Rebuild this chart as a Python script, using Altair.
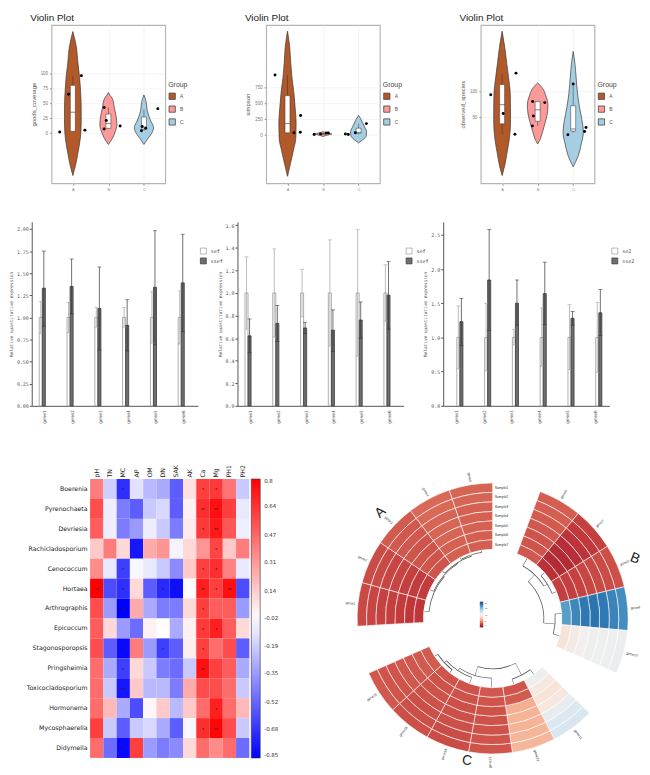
import math
import altair as alt
import pandas as pd

# ===================== Row 1: violin plots =====================
GROUPS = ["A", "B", "C"]
GROUP_COLORS = ["#B15928", "#FB9A99", "#A6CEE3"]

# goods_coverage : violin profile (value, half width in group units)
gc_A_val = [170, 144, 119, 93, 68, 42, 17, -9, -34, -54, -71]
gc_A_hw = [0.0, 0.10, 0.14, 0.19, 0.22, 0.235, 0.235, 0.21, 0.14, 0.075, 0.0]
gc_B_val = [68, 63, 58, 42, 27, 14, 2, -9, -19]
gc_B_hw = [0.0, 0.05, 0.11, 0.17, 0.22, 0.24, 0.19, 0.11, 0.0]
gc_C_val = [64, 53, 37, 22, 9, -1, -9, -19]
gc_C_hw = [0.0, 0.06, 0.095, 0.18, 0.27, 0.21, 0.11, 0.0]
gc_q1 = [3, 8, 7]
gc_med = [35, 16, 10]
gc_q3 = [80, 32, 27]
gc_lo = [2, 7, 4]
gc_hi = [96, 43, 40]
gc_pt_val = [2, 65, 96, 5, 43, 21, 7, 12, 41, 11, 4, 8]
gc_pt_jit = [-0.37, -0.12, 0.24, 0.34, -0.12, -0.06, -0.12, 0.33, 0.39, -0.05, -0.07, 0.05]

# simpson
sp_A_val = [1634, 1386, 1147, 908, 669, 430, 191, -48, -239, -430, -645]
sp_A_hw = [0.0, 0.063, 0.09, 0.126, 0.18, 0.216, 0.243, 0.234, 0.167, 0.09, 0.0]
sp_B_val = [60, 40, 25, 19, 10, -5, -20]
sp_B_hw = [0.0, 0.08, 0.2, 0.25, 0.18, 0.08, 0.0]
sp_C_val = [311, 239, 143, 48, -10, -72, -120]
sp_C_hw = [0.0, 0.077, 0.158, 0.225, 0.216, 0.117, 0.0]
sp_q1 = [38, 15, 30]
sp_med = [182, 20, 45]
sp_q3 = [621, 27, 110]
sp_lo = [38, 10, 10]
sp_hi = [946, 33, 182]
sp_pt_val = [946, 310, 48, 38, 10, 19, 33, 33, 182, 38, 19, 10]
sp_pt_jit = [-0.35, 0.37, 0.36, 0.18, -0.25, -0.07, 0.09, 0.15, 0.22, -0.09, -0.37, -0.29]

# observed_species
os_A_val = [216, 186, 156, 127, 98, 68, 39, 9, -20, -44, -63]
os_A_hw = [0.0, 0.073, 0.127, 0.18, 0.227, 0.236, 0.236, 0.205, 0.136, 0.073, 0.0]
os_B_val = [116, 106, 92, 74, 56, 39, 21, 6, -2]
os_B_hw = [0.0, 0.136, 0.227, 0.29, 0.27, 0.21, 0.136, 0.064, 0.0]
os_C_val = [177, 156, 127, 98, 68, 45, 21, -2, -26, -46]
os_C_hw = [0.0, 0.045, 0.082, 0.118, 0.18, 0.245, 0.286, 0.227, 0.136, 0.0]
os_q1 = [37, 42, 23]
os_med = [74, 64, 27]
os_q3 = [113, 80, 72]
os_lo = [17, 33, 20]
os_hi = [134, 80, 115]
os_pt_val = [93, 135, 57, 17, 80, 78, 52, 33, 114, 16, 22, 30]
os_pt_jit = [-0.32, 0.39, 0.03, 0.36, -0.14, 0.2, -0.12, -0.15, 0.0, -0.15, 0.32, 0.36]

# ===================== Row 2: bar charts =====================
GENES = ["gene1", "gene2", "gene3", "gene4", "gene5", "gene6"]
bar1_series = ["sef", "ssef"]
bar1_ref = [1, 1, 1, 1, 1, 1]
bar1_ref_lo = [0.82, 0.83, 0.89, 0.89, 0.71, 0.70]
bar1_ref_hi = [1.18, 1.17, 1.11, 1.11, 1.29, 1.30]
bar1_trt = [1.33, 1.35, 1.10, 0.91, 1.34, 1.39]
bar1_trt_lo = [0.90, 1.04, 0.63, 0.62, 0.69, 0.84]
bar1_trt_hi = [1.75, 1.66, 1.57, 1.20, 1.98, 1.94]

bar2_series = ["sef", "ssef"]
bar2_ref = [1, 1, 1, 1, 1, 1]
bar2_ref_lo = [0.68, 0.61, 0.79, 0.53, 0.44, 0.75]
bar2_ref_hi = [1.32, 1.39, 1.21, 1.47, 1.56, 1.25]
bar2_trt = [0.62, 0.73, 0.69, 0.67, 0.76, 0.98]
bar2_trt_lo = [0.47, 0.57, 0.64, 0.48, 0.60, 0.68]
bar2_trt_hi = [0.77, 0.89, 0.74, 0.85, 0.92, 1.28]

bar3_series = ["se2", "sse2"]
bar3_ref = [1, 1, 1, 1, 1, 1]
bar3_ref_lo = [0.54, 0.51, 0.89, 0.58, 0.53, 0.49]
bar3_ref_hi = [1.46, 1.50, 1.12, 1.43, 1.48, 1.51]
bar3_trt = [1.23, 1.84, 1.50, 1.64, 1.28, 1.36]
bar3_trt_lo = [0.88, 1.10, 1.18, 1.19, 1.18, 1.03]
bar3_trt_hi = [1.57, 2.58, 1.84, 2.10, 1.38, 1.70]

# ===================== Row 3 left: correlation heatmap =====================
HM_COLS = ["pH", "TN", "MC", "AP", "OM", "DN", "SAK", "AK", "Ca", "Mg", "PH1", "PH2"]
HM_ROWS = ["Boerenia", "Pyrenochaeta", "Devriesia", "Rachicladosporium", "Cenococcum",
           "Hortaea", "Arthrographis", "Epicoccum", "Stagonosporopsis", "Pringsheimia",
           "Toxicocladosporium", "Hormonema", "Mycosphaerella", "Didymella"]
hm_boerenia = [0.40, -0.18, -0.70, -0.12, -0.25, -0.30, -0.55, 0.08, 0.60, 0.62, 0.42, -0.20]
hm_pyrenochaeta = [0.55, -0.08, -0.45, -0.55, -0.20, -0.15, -0.55, 0.02, 0.65, 0.75, 0.60, -0.10]
hm_devriesia = [0.50, -0.08, -0.45, -0.35, -0.08, -0.20, -0.45, 0.04, 0.62, 0.72, 0.52, -0.08]
hm_rachicladosporium = [0.15, 0.40, 0.10, -0.78, 0.25, 0.32, -0.06, 0.10, 0.32, 0.58, 0.15, 0.40]
hm_cenococcum = [0.35, -0.10, -0.65, -0.05, -0.10, -0.20, -0.40, 0.15, 0.60, 0.65, 0.38, -0.10]
hm_hortaea = [0.80, -0.60, -0.70, 0.10, -0.55, -0.72, -0.80, -0.04, 0.70, 0.60, 0.75, -0.60]
hm_arthrographis = [0.55, -0.35, -0.85, 0.25, -0.30, -0.45, -0.45, 0.10, 0.60, 0.50, 0.50, -0.35]
hm_epicoccum = [0.50, 0.10, -0.35, -0.50, 0.02, -0.02, -0.30, 0.02, 0.62, 0.70, 0.50, 0.10]
hm_stagonosporopsis = [0.55, -0.55, -0.82, 0.40, -0.35, -0.65, -0.55, 0.03, 0.60, 0.45, 0.55, -0.55]
hm_pringsheimia = [0.45, -0.30, -0.65, 0.10, -0.20, -0.45, -0.50, -0.20, 0.75, 0.60, 0.50, -0.30]
hm_toxicocladosporium = [0.45, -0.20, -0.78, 0.15, -0.25, -0.25, -0.45, 0.25, 0.55, 0.55, 0.45, -0.20]
hm_hormonema = [0.45, 0.20, -0.30, -0.60, 0.00, 0.15, -0.25, 0.15, 0.45, 0.70, 0.45, 0.20]
hm_mycosphaerella = [0.60, -0.20, -0.55, -0.20, -0.15, -0.30, -0.55, -0.05, 0.65, 0.78, 0.55, -0.20]
hm_didymella = [0.45, -0.50, -0.82, 0.60, -0.35, -0.45, -0.40, 0.10, 0.45, 0.35, 0.45, -0.50]

sig_boerenia = ["", "", "*", "", "", "", "", "", "*", "*", "", ""]
sig_pyrenochaeta = ["", "", "", "", "", "", "", "", "**", "**", "", ""]
sig_devriesia = ["", "", "", "", "", "", "", "", "*", "**", "", ""]
sig_rachicladosporium = ["", "", "", "*", "", "", "", "", "", "*", "", ""]
sig_cenococcum = ["", "", "*", "", "", "", "", "", "*", "*", "", ""]
sig_hortaea = ["**", "", "*", "", "", "*", "**", "", "**", "*", "**", ""]
sig_arthrographis = ["", "", "**", "", "", "", "", "", "*", "", "", ""]
sig_epicoccum = ["", "", "", "", "", "", "", "", "*", "*", "", ""]
sig_stagonosporopsis = ["", "", "**", "", "", "*", "", "", "*", "", "", ""]
sig_pringsheimia = ["", "", "*", "", "", "", "", "", "**", "", "", ""]
sig_toxicocladosporium = ["", "", "**", "", "", "", "", "", "", "", "", ""]
sig_hormonema = ["", "", "", "", "", "", "", "", "", "*", "", ""]
sig_mycosphaerella = ["", "", "", "", "", "", "", "", "*", "**", "", ""]
sig_didymella = ["", "", "**", "", "", "", "", "", "", "", "", ""]

HM_VALUES = [hm_boerenia, hm_pyrenochaeta, hm_devriesia, hm_rachicladosporium, hm_cenococcum,
             hm_hortaea, hm_arthrographis, hm_epicoccum, hm_stagonosporopsis, hm_pringsheimia,
             hm_toxicocladosporium, hm_hormonema, hm_mycosphaerella, hm_didymella]
HM_SIGS = [sig_boerenia, sig_pyrenochaeta, sig_devriesia, sig_rachicladosporium, sig_cenococcum,
           sig_hortaea, sig_arthrographis, sig_epicoccum, sig_stagonosporopsis, sig_pringsheimia,
           sig_toxicocladosporium, sig_hormonema, sig_mycosphaerella, sig_didymella]
HM_LEGEND_TICKS = [-0.85, -0.68, -0.52, -0.35, -0.19, -0.02, 0.14, 0.31, 0.47, 0.64, 0.8]

# ===================== Row 3 right: circular heatmap =====================
SAMPLES = ["Sample1", "Sample2", "Sample3", "Sample4", "Sample5", "Sample6", "Sample7"]
circ_A_genes = ["gene1", "gene2", "gene3", "gene4", "gene5"]
circ_B_genes = ["gene6", "gene7", "gene8", "gene9", "gene10"]
circ_C_genes = ["gene11", "gene12", "gene13", "gene14", "gene15", "gene16"]
# values per gene, Sample1 (outer ring) .. Sample7 (inner ring)
circ_A_vals = [[2.6, 2.5, 2.4, 2.3, 2.2, 2.0, 2.0],
               [2.7, 2.6, 2.5, 2.5, 2.3, 2.2, 2.2],
               [3.2, 3.1, 3.1, 3.0, 3.0, 3.0, 3.0],
               [3.6, 3.6, 3.5, 3.5, 3.5, 3.4, 3.4],
               [3.5, 3.5, 3.4, 3.4, 3.4, 3.3, 3.3]]
circ_B_vals = [[3.3, 3.3, 3.2, 3.1, 3.0, 3.0, 3.1],
               [2.3, 2.1, 1.9, 1.7, 1.5, 1.5, 1.8],
               [2.8, 2.7, 2.6, 2.5, 2.4, 2.3, 2.3],
               [17.0, 17.5, 18.0, 18.2, 18.0, 17.3, 16.2],
               [10.4, 10.3, 10.3, 10.2, 10.0, 9.5, 8.8]]
circ_C_vals = [[11.6, 11.4, 10.6, 9.2, 8.8, 9.2, 10.3],
               [6.4, 6.3, 6.2, 6.2, 6.0, 3.2, 3.0],
               [3.0, 3.0, 2.9, 2.9, 2.9, 3.0, 3.1],
               [2.7, 2.7, 2.8, 2.8, 2.8, 2.9, 2.9],
               [2.8, 2.8, 2.8, 2.9, 2.9, 2.9, 3.0],
               [3.1, 3.0, 3.0, 3.1, 3.1, 3.2, 3.2]]
# dendrogram merges: segment, left child pos, right child pos, left h, right h, merge h
dendro_seg = ["A", "A", "A", "A", "B", "B", "B", "B", "C", "C", "C", "C", "C"]
dendro_left = [3.5, 2.5, 1.5, 0.5, 1.5, 0.5, 3.5, 1.25, 4.5, 3.5, 2.5, 0.5, 1.0]
dendro_right = [4.5, 4.0, 3.25, 2.375, 2.5, 2.0, 4.5, 4.0, 5.5, 5.0, 4.25, 1.5, 3.375]
dendro_hl = [-0.05, -0.05, -0.05, -0.05, -0.05, -0.05, -0.05, -0.9, -0.05, -0.05, -0.05, -0.05, -0.6]
dendro_hr = [-0.05, -0.25, -0.35, -0.45, -0.05, -0.5, -0.05, -0.7, -0.05, -0.4, -0.7, -0.05, -1.0]
dendro_hm = [-0.25, -0.35, -0.45, -0.55, -0.5, -0.9, -0.7, -1.9, -0.4, -0.7, -1.0, -0.6, -2.0]
SEG_LETTER_ANGLE = [-43, 22, 8]

VIOLIN_FONT = "Liberation Sans"
MONO = "DejaVu Sans Mono"
HM_FONT = "DejaVu Sans"


def spacer(w, h=1):
    return alt.Chart(pd.DataFrame({"s": [0]})).mark_point(opacity=0).encode(
        x=alt.value(0), y=alt.value(0)).properties(width=w, height=h)


def indep(ch):
    return ch.resolve_scale(color="independent", fill="independent", stroke="independent",
                            x="independent", y="independent").resolve_legend(
        color="independent", fill="independent", stroke="independent")


# ---------------- violin panel ----------------
VW, VH = 115, 160


def violin_panel(ytitle, profiles, q1, med, q3, lo, hi, pt_val, pt_jit, ydom, yticks):
    rows = []
    for gi, (vals, hws) in enumerate(profiles):
        for v, w in zip(vals, hws):
            rows.append({"group": GROUPS[gi], "gi": gi + 1, "value": v, "hw": w})
    prof = pd.DataFrame(rows)
    box = pd.DataFrame({"group": GROUPS, "gi": [1, 2, 3], "q1": q1, "med": med,
                        "q3": q3, "lo": lo, "hi": hi})
    pts = pd.DataFrame({"group": [g for g in GROUPS for _ in range(4)],
                        "gi": [i + 1 for i in range(3) for _ in range(4)],
                        "value": pt_val, "jit": pt_jit})
    xsc = alt.Scale(domain=[0.4, 3.6], nice=False, zero=False)
    ysc = alt.Scale(domain=ydom, nice=False, zero=False)
    xax = alt.Axis(values=[1, 2, 3], labelExpr="['', 'A', 'B', 'C'][datum.value]", title=None,
                   grid=True, gridColor="#EDEDED", gridWidth=0.6, tickColor="#999", tickSize=2,
                   labelFontSize=4, labelColor="#888", domain=False, labelPadding=2,
                   labelFont=VIOLIN_FONT)
    yax = alt.Axis(values=yticks, title=ytitle, grid=True, gridColor="#EDEDED", gridWidth=0.6,
                   titleFontSize=6, titleFontWeight="normal", titleColor="#555",
                   titleFont=VIOLIN_FONT, labelFont=VIOLIN_FONT,
                   labelFontSize=4.5, labelColor="#777", tickColor="#999", tickSize=2,
                   domain=False, labelPadding=2, titlePadding=4)
    leg = alt.Legend(title="Group", orient="none", legendX=VW + 3, legendY=57,
                     titleFontSize=7, titleFontWeight="normal", titleColor="#444",
                     titleFont=VIOLIN_FONT, labelFont=VIOLIN_FONT,
                     labelFontSize=5, labelColor="#555", symbolType="square", symbolSize=40,
                     symbolStrokeColor="#444", symbolStrokeWidth=0.8, rowPadding=3,
                     titlePadding=4)
    area = alt.Chart(prof).transform_calculate(
        x1="datum.gi - datum.hw", x2="datum.gi + datum.hw"
    ).mark_area(orient="horizontal", stroke="#3A3A3A", strokeWidth=0.7,
                interpolate="monotone", opacity=1).encode(
        y=alt.Y("value:Q", scale=ysc, axis=yax),
        x=alt.X("x1:Q", scale=xsc, axis=xax),
        x2="x2:Q",
        fill=alt.Fill("group:N", scale=alt.Scale(domain=GROUPS, range=GROUP_COLORS), legend=leg),
        detail="group:N",
    )
    whisk_hi = alt.Chart(box).mark_rule(color="#333", strokeWidth=0.5).encode(
        x=alt.X("gi:Q", scale=xsc, axis=xax), y=alt.Y("q3:Q", scale=ysc, axis=yax), y2="hi:Q")
    whisk_lo = alt.Chart(box).mark_rule(color="#333", strokeWidth=0.5).encode(
        x=alt.X("gi:Q", scale=xsc, axis=xax), y=alt.Y("lo:Q", scale=ysc, axis=yax), y2="q1:Q")
    boxr = alt.Chart(box).transform_calculate(
        b0="datum.gi - 0.07", b1="datum.gi + 0.07"
    ).mark_rect(fill="white", stroke="#333", strokeWidth=0.5).encode(
        x=alt.X("b0:Q", scale=xsc, axis=xax), x2="b1:Q",
        y=alt.Y("q1:Q", scale=ysc, axis=yax), y2="q3:Q")
    medr = alt.Chart(box).transform_calculate(
        b0="datum.gi - 0.07", b1="datum.gi + 0.07"
    ).mark_rule(color="#333", strokeWidth=0.6).encode(
        x=alt.X("b0:Q", scale=xsc, axis=xax), x2="b1:Q", y=alt.Y("med:Q", scale=ysc, axis=yax))
    dots = alt.Chart(pts).transform_calculate(
        xp="datum.gi + datum.jit"
    ).mark_circle(size=9, color="black", opacity=1).encode(
        x=alt.X("xp:Q", scale=xsc, axis=xax), y=alt.Y("value:Q", scale=ysc, axis=yax))
    return alt.layer(area, whisk_hi, whisk_lo, boxr, medr, dots).properties(
        width=VW, height=VH,
        title=alt.TitleParams("Violin Plot", anchor="start", fontSize=10, fontWeight="normal",
                              color="#222", offset=2, font=VIOLIN_FONT),
        view=alt.ViewBackground(stroke="#B5B5B5", strokeWidth=1.2))


v1 = violin_panel("goods_coverage", [(gc_A_val, gc_A_hw), (gc_B_val, gc_B_hw), (gc_C_val, gc_C_hw)],
                  gc_q1, gc_med, gc_q3, gc_lo, gc_hi, gc_pt_val, gc_pt_jit, [-84, 181],
                  [0, 25, 50, 75, 100])
v2 = violin_panel("simpson", [(sp_A_val, sp_A_hw), (sp_B_val, sp_B_hw), (sp_C_val, sp_C_hw)],
                  sp_q1, sp_med, sp_q3, sp_lo, sp_hi, sp_pt_val, sp_pt_jit, [-755, 1730],
                  [0, 250, 500, 750])
v3 = violin_panel("observed_species", [(os_A_val, os_A_hw), (os_B_val, os_B_hw), (os_C_val, os_C_hw)],
                  os_q1, os_med, os_q3, os_lo, os_hi, os_pt_val, os_pt_jit, [-78, 228],
                  [50, 100])

# ---------------- bar panel ----------------
BW, BH = 168, 186


def bar_panel(series, ref, ref_lo, ref_hi, trt, trt_lo, trt_hi, ymax, yticks, yfmt):
    df = pd.DataFrame({"gene": GENES + GENES,
                       "series": [series[0]] * 6 + [series[1]] * 6,
                       "val": ref + trt, "lo": ref_lo + trt_lo, "hi": ref_hi + trt_hi})
    xsc = alt.Scale(domain=GENES, paddingInner=0.56, paddingOuter=0.27)
    xax = alt.Axis(title=None, labelAngle=-90, labelFontSize=4.5, labelFont=MONO,
                   labelColor="#555", ticks=False, domainColor="#555", labelPadding=4)
    ysc = alt.Scale(domain=[0, ymax], nice=False, zero=True)
    yax = alt.Axis(values=yticks, format=yfmt, title="Relative quantitative expression",
                   titleFont=MONO, titleFontSize=4.5, titleFontWeight="normal", titleColor="#555",
                   labelFont=MONO, labelFontSize=5, labelColor="#555", tickColor="#555",
                   tickSize=2.5, domainColor="#555", grid=False, labelPadding=1, titlePadding=3)
    off = alt.XOffset("series:N", scale=alt.Scale(domain=series, paddingInner=0, paddingOuter=0))
    leg = alt.Legend(orient="none", legendX=BW + 2, legendY=26, title=None, symbolType="square",
                     symbolSize=36, labelFontSize=5, labelFont=MONO, labelColor="#444",
                     symbolStrokeWidth=0.7, rowPadding=1)
    base = alt.Chart(df).encode(x=alt.X("gene:N", scale=xsc, axis=xax), xOffset=off)
    bars = base.mark_bar(strokeWidth=0.8).encode(
        y=alt.Y("val:Q", scale=ysc, axis=yax),
        fill=alt.Fill("series:N", scale=alt.Scale(domain=series, range=["#FFFFFF", "#6E6E6E"]), legend=leg),
        stroke=alt.Stroke("series:N", scale=alt.Scale(domain=series, range=["#9A9A9A", "#3A3A3A"]), legend=leg))
    ecol = alt.Color("series:N", scale=alt.Scale(domain=series, range=["#A0A0A0", "#333333"]), legend=None)
    err = base.mark_rule(strokeWidth=0.7).encode(
        y=alt.Y("lo:Q", scale=ysc, axis=yax), y2="hi:Q", color=ecol)
    cap_hi = base.mark_tick(size=4, thickness=0.8).encode(
        y=alt.Y("hi:Q", scale=ysc, axis=yax), color=ecol)
    cap_lo = base.mark_tick(size=4, thickness=0.8).encode(
        y=alt.Y("lo:Q", scale=ysc, axis=yax), color=ecol)
    return alt.layer(bars, err, cap_hi, cap_lo).properties(width=BW, height=BH)


b1 = bar_panel(bar1_series, bar1_ref, bar1_ref_lo, bar1_ref_hi, bar1_trt, bar1_trt_lo, bar1_trt_hi,
               2.08, [0, 0.25, 0.5, 0.75, 1.0, 1.25, 1.5, 1.75, 2.0], ".2f")
b2 = bar_panel(bar2_series, bar2_ref, bar2_ref_lo, bar2_ref_hi, bar2_trt, bar2_trt_lo, bar2_trt_hi,
               1.63, [0, 0.2, 0.4, 0.6, 0.8, 1.0, 1.2, 1.4, 1.6], ".1f")
b3 = bar_panel(bar3_series, bar3_ref, bar3_ref_lo, bar3_ref_hi, bar3_trt, bar3_trt_lo, bar3_trt_hi,
               2.69, [0, 0.5, 1.0, 1.5, 2.0, 2.5], ".1f")

# ---------------- heatmap ----------------
HW, HH = 161, 282
hm_df = pd.DataFrame([{"row": r, "col": c, "val": v, "sig": s}
                      for r, vals, sigs in zip(HM_ROWS, HM_VALUES, HM_SIGS)
                      for c, v, s in zip(HM_COLS, vals, sigs)])
hx = alt.X("col:N", sort=HM_COLS, title=None,
           axis=alt.Axis(orient="top", labelAngle=-90, labelFontSize=6.3, labelFont=HM_FONT,
                         labelColor="#222", ticks=False, domain=False, labelPadding=2))
hy = alt.Y("row:N", sort=HM_ROWS, title=None,
           axis=alt.Axis(labelFontSize=6.3, labelFont=HM_FONT, labelColor="#222", ticks=False,
                         domain=False, labelPadding=3))
heat_cells = alt.Chart(hm_df).mark_rect().encode(
    x=hx, y=hy,
    fill=alt.Fill("val:Q", scale=alt.Scale(domain=[-0.85, -0.025, 0.8],
                                           range=["#0000FF", "#FFFFFF", "#FF0000"],
                                           interpolate="rgb"),
                  legend=alt.Legend(orient="none", legendX=HW + 2, legendY=0, title=None,
                                    direction="vertical", gradientLength=HH, gradientThickness=9,
                                    values=HM_LEGEND_TICKS, labelFontSize=5.5, labelFont=HM_FONT,
                                    labelColor="#333", labelOverlap=False,
                                    labelExpr="replace(format(datum.value, '.2~f'), '\u2212', '-')",
                                    gradientStrokeColor="#333", gradientStrokeWidth=0.6,
                                    labelOffset=4)))
heat_stars = alt.Chart(hm_df).mark_text(fontSize=5, color="#222", dy=1.5).encode(
    x=hx, y=hy, text="sig:N")
heat = alt.layer(heat_cells, heat_stars).properties(width=HW, height=HH)

# ---------------- circular heatmap ----------------
CW, CH = 282, 282
GAP = 1.1
T = 16 + 3 * GAP
SEG_START = {"A": T - 5, "B": GAP, "C": GAP + 5 + GAP}
SEG_GENES = {"A": circ_A_genes, "B": circ_B_genes, "C": circ_C_genes}
SEG_VALS = {"A": circ_A_vals, "B": circ_B_vals, "C": circ_C_vals}

cells = []
for seg in ["A", "B", "C"]:
    for k, (g, vals) in enumerate(zip(SEG_GENES[seg], SEG_VALS[seg])):
        for si, (s, v) in enumerate(zip(SAMPLES, vals)):
            t0 = SEG_START[seg] + k
            cells.append({"gene": g, "sample": s, "val": v, "t0": t0, "t1": t0 + 1,
                          "r0": 6 - si, "r1": 7 - si})
cells_df = pd.DataFrame(cells)

dend = []
for seg, l, r, hl, hr, hm in zip(dendro_seg, dendro_left, dendro_right, dendro_hl, dendro_hr, dendro_hm):
    st = SEG_START[seg]
    dend.append({"t0": st + l, "t1": st + r, "r0": hm - 0.04, "r1": hm + 0.04})
    dend.append({"t0": st + l - 0.012, "t1": st + l + 0.012, "r0": hm, "r1": hl})
    dend.append({"t0": st + r - 0.012, "t1": st + r + 0.012, "r0": hm, "r1": hr})
dend_df = pd.DataFrame(dend)

gl = []
for seg in ["A", "B", "C"]:
    for k, g in enumerate(SEG_GENES[seg]):
        tm = SEG_START[seg] + k + 0.5
        deg = tm * 360 / T
        gl.append({"gene": g, "tm": tm, "rad": 7.3, "right": deg < 180,
                   "ang": deg - 90 if deg < 180 else deg + 90})
gl_df = pd.DataFrame(gl)

sl_df = pd.DataFrame({"sample": SAMPLES, "th": [0] * 7, "rm": [6.5 - i for i in range(7)]})
let_df = pd.DataFrame({"seg": ["A", "B", "C"],
                       "tm": [SEG_START["A"] + 2.5, SEG_START["B"] + 2.5, SEG_START["C"] + 3],
                       "rad": [9.0, 9.0, 7.95], "ang": SEG_LETTER_ANGLE})

tsc = alt.Scale(domain=[0, T], range=[0, 2 * math.pi])
rsc = alt.Scale(type="linear", domain=[0, 7], range=[70, 137], zero=False, nice=False)

circ_cells = alt.Chart(cells_df).mark_arc(stroke="white", strokeWidth=0.6).encode(
    theta=alt.Theta("t0:Q", scale=tsc, stack=None), theta2="t1:Q",
    radius=alt.Radius("r0:Q", scale=rsc), radius2="r1:Q",
    fill=alt.Fill("val:Q", scale=alt.Scale(scheme="redblue", domain=[0, 20]),
                  legend=alt.Legend(orient="none", legendX=CW / 2 - 13, legendY=CH / 2 - 17,
                                    title=None, direction="vertical", gradientLength=26,
                                    gradientThickness=3.5, values=[0, 5, 10, 15, 20],
                                    labelFontSize=2.5, labelOffset=1.5, labelColor="#555",
                                    labelOverlap=False)))
circ_dend = alt.Chart(dend_df).mark_arc(color="#555").encode(
    theta=alt.Theta("t0:Q", scale=tsc, stack=None), theta2="t1:Q",
    radius=alt.Radius("r0:Q", scale=rsc), radius2="r1:Q")
circ_samples = alt.Chart(sl_df).mark_text(align="left", dx=2, fontSize=3.5, color="#333",
                                          baseline="middle").encode(
    theta=alt.Theta("th:Q", scale=tsc, stack=None), radius=alt.Radius("rm:Q", scale=rsc),
    text="sample:N")
circ_genes_r = alt.Chart(gl_df).transform_filter("datum.right").mark_text(
    align="left", baseline="middle", fontSize=3.5, color="#333").encode(
    theta=alt.Theta("tm:Q", scale=tsc, stack=None), radius=alt.Radius("rad:Q", scale=rsc),
    angle=alt.Angle("ang:Q", scale=None), text="gene:N")
circ_genes_l = alt.Chart(gl_df).transform_filter("!datum.right").mark_text(
    align="right", baseline="middle", fontSize=3.5, color="#333").encode(
    theta=alt.Theta("tm:Q", scale=tsc, stack=None), radius=alt.Radius("rad:Q", scale=rsc),
    angle=alt.Angle("ang:Q", scale=None), text="gene:N")
circ_letters = alt.Chart(let_df).mark_text(fontSize=14, color="#222", baseline="middle",
                                           font=VIOLIN_FONT).encode(
    theta=alt.Theta("tm:Q", scale=tsc, stack=None), radius=alt.Radius("rad:Q", scale=rsc),
    angle=alt.Angle("ang:Q", scale=None), text="seg:N")
circ = alt.layer(circ_cells, circ_dend, circ_samples, circ_genes_r, circ_genes_l,
                 circ_letters).properties(width=CW, height=CH)

# ---------------- assemble (flat rows, spacer views set the gaps) ----------------
row1 = indep(alt.hconcat(spacer(20), v1, spacer(102), v2, spacer(102), v3,
                         spacing=0, bounds="flush"))
row2 = indep(alt.hconcat(b1, spacer(40), b2, spacer(40), b3, spacing=0, bounds="flush"))
row3 = indep(alt.hconcat(spacer(59), heat, spacer(105), circ, spacing=0, bounds="flush"))
chart = indep(alt.vconcat(row1, spacer(1, 24), row2, spacer(1, 38), row3, spacing=0)).properties(
    padding=0
).configure(font=VIOLIN_FONT).configure_view(stroke=None)

chart.save("out.html", embed_options={"renderer": "svg", "actions": False})
